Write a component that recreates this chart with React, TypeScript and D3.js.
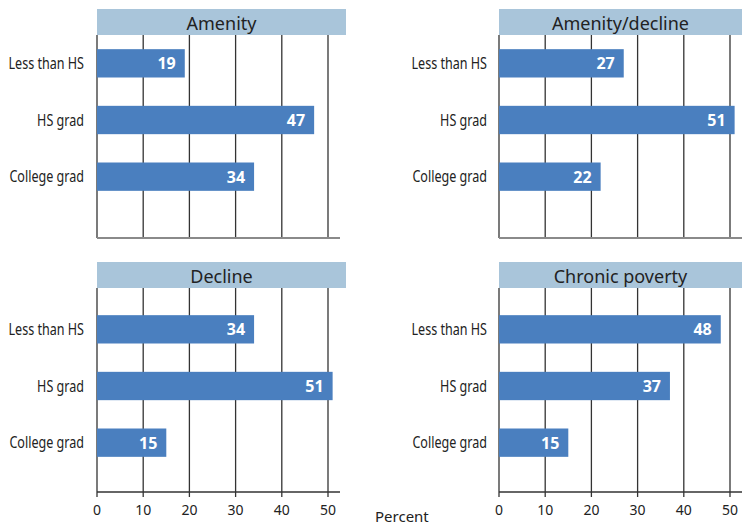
import React from "react";
import * as d3 from "d3";

const categories = ["Less than HS", "HS grad", "College grad"];
const panelTitles = ["Amenity", "Amenity/decline", "Decline", "Chronic poverty"];
const amenity = [19, 47, 34];
const amenityDecline = [27, 51, 22];
const decline = [34, 51, 15];
const chronicPoverty = [48, 37, 15];
const tickValues = [0, 10, 20, 30, 40, 50];
const axisTitle = "Percent";

const seriesList = [amenity, amenityDecline, decline, chronicPoverty];

const W = 755;
const H = 527;
const BAR = "#4a7fbf";
const HEAD = "#a9c5da";
const sans = "'Noto Sans', 'Open Sans', sans-serif";

type Layout = {
  x0: number; x1: number; axisEnd: number; headEnd: number;
  headTop: number; headBottom: number; axisY: number;
  bandTop: number; bandBottom: number; labelX: number; ticks: boolean;
};

const layouts: Layout[] = [
  { x0: 97, x1: 328, axisEnd: 340, headEnd: 346, headTop: 9, headBottom: 35, axisY: 238, bandTop: 35, bandBottom: 205, labelX: 84, ticks: false },
  { x0: 499, x1: 730, axisEnd: 742, headEnd: 742, headTop: 9, headBottom: 35, axisY: 238, bandTop: 35, bandBottom: 205, labelX: 487, ticks: false },
  { x0: 97, x1: 328, axisEnd: 340, headEnd: 346, headTop: 262, headBottom: 288, axisY: 492, bandTop: 301, bandBottom: 471, labelX: 84, ticks: true },
  { x0: 499, x1: 730, axisEnd: 742, headEnd: 742, headTop: 262, headBottom: 288, axisY: 492, bandTop: 301, bandBottom: 471, labelX: 487, ticks: true },
];

function Panel({ idx }: { idx: number }) {
  const L = layouts[idx];
  const values = seriesList[idx];
  const x = d3.scaleLinear().domain([0, 50]).range([L.x0, L.x1]);
  const y = d3.scaleBand<string>().domain(categories).range([L.bandTop, L.bandBottom]).paddingInner(0.5).paddingOuter(0.25);
  return (
    <g>
      <rect x={L.x0} y={L.headTop} width={L.headEnd - L.x0} height={L.headBottom - L.headTop} fill={HEAD} />
      <text x={(L.x0 + L.headEnd) / 2} y={L.headBottom - 5} textAnchor="middle" fontFamily={sans} fontSize={18} fill="#222">
        {panelTitles[idx]}
      </text>
      {tickValues.map((t) => (
        <line key={t} x1={x(t)} x2={x(t)} y1={L.headBottom} y2={L.axisY + (L.ticks ? 5 : 0)} stroke="#333" strokeWidth={1.3} />
      ))}
      <line x1={L.x0} x2={L.axisEnd} y1={L.axisY} y2={L.axisY} stroke={L.ticks ? "#333" : "#8a8a8a"} strokeWidth={L.ticks ? 1.3 : 2} />
      {categories.map((c, i) => {
        const cy = (y(c) as number) + y.bandwidth() / 2;
        return (
          <g key={c}>
            <rect x={x(0)} y={y(c)} width={x(values[i]) - x(0)} height={y.bandwidth()} fill={BAR} />
            <text x={x(values[i]) - 9} y={cy + 6} textAnchor="end" fontFamily={sans} fontWeight="bold" fontSize={16} fill="#fff">
              {values[i]}
            </text>
            <g transform={`translate(${L.labelX},${cy + 5.5}) scale(0.785,1)`}>
              <text x={0} y={0} textAnchor="end" fontFamily={sans} fontSize={16} fill="#222">
                {c}
              </text>
            </g>
          </g>
        );
      })}
      {L.ticks && tickValues.map((t) => (
        <text key={"t" + t} x={x(t)} y={515} textAnchor="middle" fontFamily={sans} fontSize={14} fill="#222">
          {t}
        </text>
      ))}
    </g>
  );
}

export default function App() {
  return (
    <svg width={W} height={H} style={{ position: "absolute", left: 0, top: 0, background: "#fff" }}>
      {layouts.map((_, i) => <Panel key={i} idx={i} />)}
      <text x={375} y={522} fontFamily={sans} fontSize={15} fill="#222">{axisTitle}</text>
    </svg>
  );
}
